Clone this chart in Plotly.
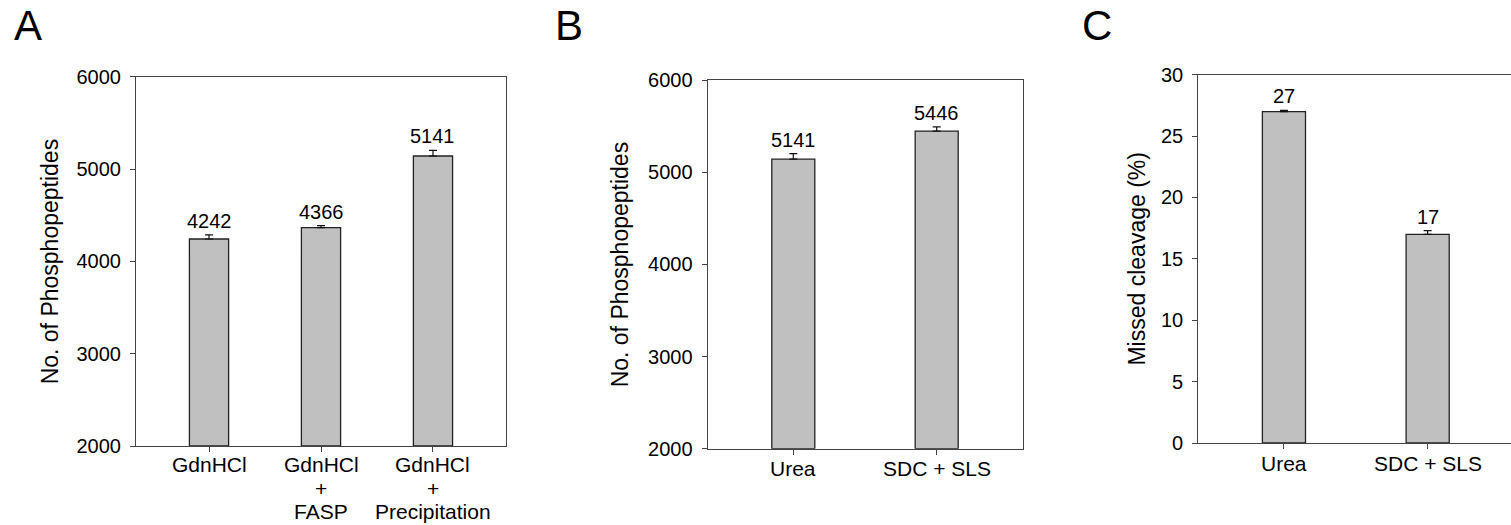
import plotly.graph_objects as go

# ---- data -------------------------------------------------------------
a_labels = [["GdnHCl"], ["GdnHCl", "+", "FASP"], ["GdnHCl", "+", "Precipitation"]]
a_values = [4242, 4366, 5141]
a_errors = [45, 22, 60]

b_labels = [["Urea"], ["SDC + SLS"]]
b_values = [5141, 5446]
b_errors = [60, 45]

c_labels = [["Urea"], ["SDC + SLS"]]
c_values = [27, 17]
c_errors = [0.1, 0.3]

a_ticks = [2000, 3000, 4000, 5000, 6000]
b_ticks = [2000, 3000, 4000, 5000, 6000]
c_ticks = [0, 5, 10, 15, 20, 25, 30]

# ---- styling ----------------------------------------------------------
W, H = 1511, 525
FONT = "Liberation Sans, Arial, sans-serif"
BAR_FILL = "#c0c0c0"
BAR_LINE = "#222222"
SPINE = "#444444"

panels = [
    dict(labels=a_labels, values=a_values, errors=a_errors, ticks=a_ticks,
         yrange=[2000, 6000], xrange=[-0.652, 2.652], bw=0.35,
         box=(136, 506, 76.7, 446), title="No. of Phosphopeptides", tx=50,
         letter="A", lx=28, line_px=23.5, cat_y=464.5, mirror_y=True),
    dict(labels=b_labels, values=b_values, errors=b_errors, ticks=b_ticks,
         yrange=[2000, 6000], xrange=[-0.597, 1.604], bw=0.30,
         box=(707.7, 1023.3, 80, 448.7), title="No. of Phosphopeptides", tx=620,
         letter="B", lx=569, line_px=23.5, cat_y=468, mirror_y=True),
    dict(labels=c_labels, values=c_values, errors=c_errors, ticks=c_ticks,
         yrange=[0, 30], xrange=[-0.596, 1.58], bw=0.30,
         box=(1198.3, 1511, 74.7, 443), title="Missed cleavage (%)", tx=1136.7,
         letter="C", lx=1097, line_px=23.5, cat_y=463, mirror_y=False),
]

fig = go.Figure()
annotations = []
layout = {}

for i, p in enumerate(panels, start=1):
    xa = "x" if i == 1 else f"x{i}"
    ya = "y" if i == 1 else f"y{i}"
    xkey = "xaxis" if i == 1 else f"xaxis{i}"
    ykey = "yaxis" if i == 1 else f"yaxis{i}"
    left, right, top, bottom = p["box"]
    xs = list(range(len(p["values"])))
    floor = p["yrange"][0]

    # bars rise from the axis floor
    fig.add_trace(go.Bar(
        x=xs, y=[v - floor for v in p["values"]], base=floor, width=p["bw"],
        xaxis=xa, yaxis=ya,
        marker=dict(color=BAR_FILL, line=dict(color=BAR_LINE, width=1.3)),
        error_y=dict(type="data", symmetric=False, array=p["errors"],
                     arrayminus=[0] * len(p["errors"]),
                     color="#111111", thickness=1.2, width=4),
        showlegend=False, hoverinfo="skip",
    ))

    layout[xkey] = dict(
        domain=[left / W, right / W], range=p["xrange"], anchor=ya,
        showline=True, linecolor=SPINE, linewidth=1.2, mirror=True,
        tickmode="array", tickvals=xs, ticktext=[""] * len(xs),
        ticks="outside", ticklen=5, tickcolor=SPINE, tickwidth=1.2,
        showgrid=False, zeroline=False, fixedrange=True, automargin=False,
    )
    layout[ykey] = dict(
        domain=[1 - bottom / H, 1 - top / H], range=p["yrange"], anchor=xa,
        showline=True, linecolor=SPINE, linewidth=1.2, mirror=p["mirror_y"],
        tickmode="array", tickvals=p["ticks"],
        ticks="outside", ticklen=5, tickcolor=SPINE, tickwidth=1.2,
        ticklabelstandoff=5,
        tickfont=dict(family=FONT, size=20, color="#000000"),
        showgrid=False, zeroline=False, fixedrange=True, automargin=False,
    )

    # value labels above the error caps
    for x, v, e in zip(xs, p["values"], p["errors"]):
        annotations.append(dict(
            x=x, y=v + e, xref=xa, yref=ya, text=str(v), showarrow=False,
            xanchor="center", yanchor="bottom", yshift=1,
            font=dict(family=FONT, size=20, color="#000000"),
        ))

    # category labels, one annotation per line
    for x, lines in zip(xs, p["labels"]):
        for k, line in enumerate(lines):
            cy = p["cat_y"] + k * p["line_px"]
            annotations.append(dict(
                x=x, y=1 - cy / H, xref=xa, yref="paper", text=line,
                showarrow=False, xanchor="center", yanchor="middle", borderpad=0,
                font=dict(family=FONT, size=21, color="#000000"),
            ))

    # y-axis title
    annotations.append(dict(
        x=p["tx"] / W, y=1 - (top + bottom) / 2 / H, xref="paper", yref="paper",
        text=p["title"], textangle=-90, showarrow=False,
        xanchor="center", yanchor="middle",
        font=dict(family=FONT, size=23, color="#000000"),
    ))

    # panel letter
    annotations.append(dict(
        x=p["lx"] / W, y=1 - 25 / H, xref="paper", yref="paper",
        text=p["letter"], showarrow=False, xanchor="center", yanchor="middle",
        font=dict(family=FONT, size=42, color="#000000"),
    ))

fig.update_layout(
    width=W, height=H,
    margin=dict(l=0, r=0, t=0, b=0, pad=0, autoexpand=False),
    paper_bgcolor="white", plot_bgcolor="white",
    annotations=annotations,
    **layout,
)

fig.write_html("out.html")
